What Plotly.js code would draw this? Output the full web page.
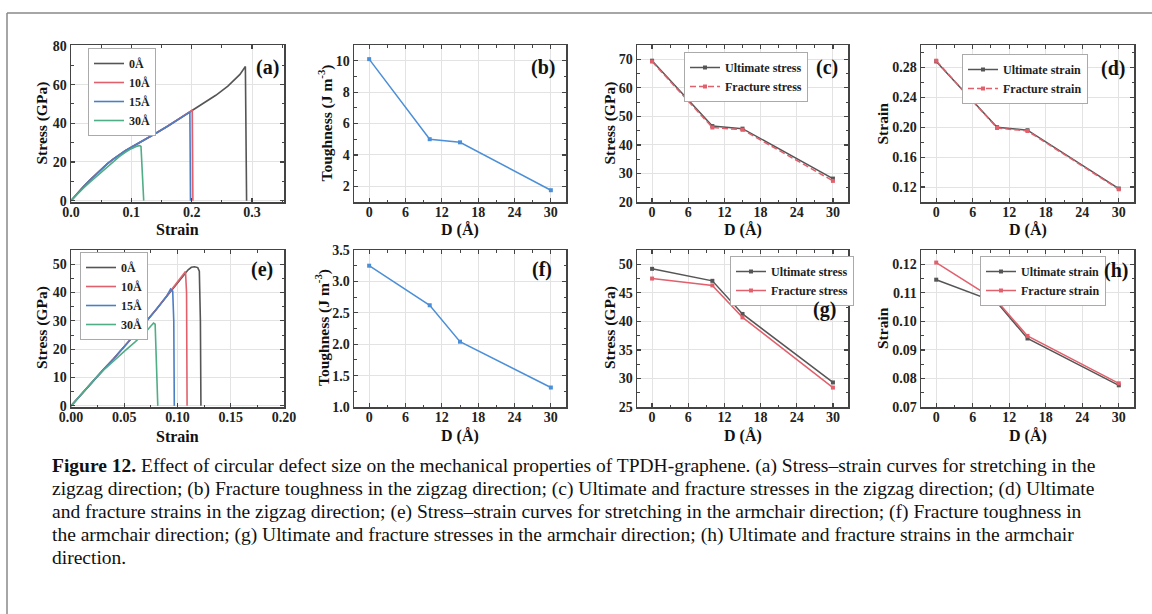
<!DOCTYPE html>
<html>
<head>
<meta charset="utf-8">
<script src="https://cdn.plot.ly/plotly-3.0.1.min.js"></script>
<style>
html,body{margin:0;padding:0;background:#fff;}
#chart{width:1152px;height:614px;}
</style>
</head>
<body>
<div id="chart"></div>
<script>
// ---------------- DATA ----------------
// (a) zigzag stress-strain
const a0_strain = [0, 0.01, 0.02, 0.03, 0.04, 0.05, 0.06, 0.07, 0.08, 0.09, 0.10, 0.11, 0.12, 0.14, 0.16, 0.18, 0.20, 0.22, 0.24, 0.26, 0.27, 0.28, 0.289, 0.2905, 0.291];
const a0_stress = [0, 3.6, 7.0, 10.2, 13.3, 16.2, 19.0, 21.5, 23.8, 25.8, 27.6, 29.3, 31.0, 34.7, 38.5, 42.4, 46.5, 50.4, 54.5, 59.2, 62.0, 65.3, 69.4, 35.0, 0];
const a10_strain = [0, 0.01, 0.02, 0.03, 0.04, 0.05, 0.06, 0.07, 0.08, 0.09, 0.10, 0.11, 0.12, 0.14, 0.16, 0.18, 0.20, 0.201, 0.2015, 0.202];
const a10_stress = [0, 3.6, 7.0, 10.2, 13.3, 16.2, 19.0, 21.5, 23.8, 25.8, 27.6, 29.3, 31.0, 34.7, 38.5, 42.4, 46.5, 46.8, 25.0, 0];
const a15_strain = [0, 0.01, 0.02, 0.03, 0.04, 0.05, 0.06, 0.07, 0.08, 0.09, 0.10, 0.11, 0.12, 0.14, 0.16, 0.18, 0.197, 0.1975, 0.198];
const a15_stress = [0, 3.6, 7.0, 10.2, 13.3, 16.2, 19.0, 21.5, 23.8, 25.8, 27.6, 29.3, 31.0, 34.7, 38.5, 42.4, 45.8, 25.0, 0];
const a30_strain = [0, 0.01, 0.02, 0.03, 0.04, 0.05, 0.06, 0.07, 0.08, 0.09, 0.10, 0.11, 0.114, 0.116, 0.118, 0.1205];
const a30_stress = [0, 3.3, 6.3, 9.2, 12.0, 14.8, 17.5, 20.2, 22.8, 25.0, 26.9, 28.2, 28.5, 28.0, 15.0, 0];

// defect sizes D (Å)
const D = [0, 10, 15, 30];
// (b) zigzag toughness
const toughZ = [10.1, 5.0, 4.8, 1.75];
// (c) zigzag stresses
const ultStressZ = [69.5, 46.6, 45.7, 28.2];
const fracStressZ = [69.2, 46.1, 45.3, 27.4];
// (d) zigzag strains
const ultStrainZ = [0.288, 0.200, 0.196, 0.118];
const fracStrainZ = [0.289, 0.199, 0.195, 0.117];

// (e) armchair stress-strain
const e0_strain = [0, 0.01, 0.02, 0.03, 0.04, 0.05, 0.06, 0.07, 0.08, 0.09, 0.10, 0.105, 0.11, 0.113, 0.116, 0.119, 0.1205, 0.1215, 0.122];
const e0_stress = [0, 4.3, 8.5, 12.6, 16.6, 20.8, 25.1, 29.5, 34.0, 38.8, 43.4, 45.8, 48.0, 48.9, 49.1, 48.8, 47.5, 30.0, 0];
const e10_strain = [0, 0.01, 0.02, 0.03, 0.04, 0.05, 0.06, 0.07, 0.08, 0.09, 0.10, 0.105, 0.1075, 0.1085, 0.109];
const e10_stress = [0, 4.3, 8.5, 12.6, 16.6, 20.8, 25.1, 29.5, 34.0, 38.8, 43.4, 45.8, 47.4, 40.0, 0];
const e15_strain = [0, 0.01, 0.02, 0.03, 0.04, 0.05, 0.06, 0.07, 0.08, 0.09, 0.0935, 0.0955, 0.0965, 0.097];
const e15_stress = [0, 4.3, 8.5, 12.6, 16.6, 20.8, 25.1, 29.5, 34.0, 38.8, 41.2, 40.5, 30.0, 0];
const e30_strain = [0, 0.01, 0.02, 0.03, 0.04, 0.05, 0.06, 0.07, 0.075, 0.0775, 0.079, 0.0805, 0.0815];
const e30_stress = [0, 4.3, 8.5, 12.4, 15.9, 19.2, 22.5, 26.0, 28.2, 29.2, 28.8, 15.0, 0];

// (f) armchair toughness
const toughA = [3.25, 2.62, 2.04, 1.31];
// (g) armchair stresses
const ultStressA = [49.2, 47.1, 41.3, 29.3];
const fracStressA = [47.5, 46.3, 40.7, 28.4];
// (h) armchair strains
const ultStrainA = [0.1146, 0.1066, 0.0940, 0.0776];
const fracStrainA = [0.1206, 0.1071, 0.0949, 0.0783];

const sizeLabels = ['0Å', '10Å', '15Å', '30Å'];
const caption = [
  '<b>Figure 12.</b> Effect of circular defect size on the mechanical properties of TPDH-graphene. (a) Stress–strain curves for stretching in the',
  'zigzag direction; (b) Fracture toughness in the zigzag direction; (c) Ultimate and fracture stresses in the zigzag direction; (d) Ultimate',
  'and fracture strains in the zigzag direction; (e) Stress–strain curves for stretching in the armchair direction; (f) Fracture toughness in',
  'the armchair direction; (g) Ultimate and fracture stresses in the armchair direction; (h) Ultimate and fracture strains in the armchair',
  'direction.'
];

// ---------------- STYLE / LAYOUT ----------------
const W = 1152, H = 614;
const px = x => x / W;
const py = y => 1 - y / H;
const SERIF = 'Liberation Serif, Times New Roman, serif';
const cGray = '#555555', cRed = '#e2606c', cBlue = '#4a7fc6', cGreen = '#4fae86', cLine = '#4b8fd8';

const cols = [[71, 284], [354, 566], [637, 848], [921, 1134]];
const rows = [[45, 202], [250, 407]];

const layout = {
  width: W, height: H,
  margin: {l: 0, r: 0, t: 0, b: 0},
  paper_bgcolor: '#fff', plot_bgcolor: '#fff',
  showlegend: true,
  annotations: [], shapes: []
};

function axisBase(range, dtick, minorDtick, fmt, tick0, isX) {
  const ax = {
    range: range, autorange: false, dtick: dtick, tick0: tick0 === undefined ? 0 : tick0,
    tickformat: fmt || '',
    showline: true, linecolor: '#444', linewidth: 1.5, mirror: 'allticks',
    ticks: 'inside', ticklen: 4, tickwidth: 1.2, tickcolor: '#444',
    minor: {ticks: 'inside', ticklen: 2.5, tickwidth: 1, tickcolor: '#444', dtick: minorDtick, showgrid: false},
    showgrid: true, gridcolor: '#e3e3e3', gridwidth: 1,
    zeroline: false,
    tickfont: {family: SERIF, size: 14, color: '#222', weight: 'bold'},
    fixedrange: true
  };
  if (isX) ax.ticklabelstandoff = -3;
  return ax;
}

const panels = [
  {id: 1, col: 0, row: 0, x: [[0, 0.353], 0.1, 0.05, '.1f'], y: [[-0.7, 80.5], 20, 10, 'd']},
  {id: 2, col: 1, row: 0, x: [[-2.5, 32.5], 6, 3, 'd'], y: [[1, 11], 2, 1, 'd']},
  {id: 3, col: 2, row: 0, x: [[-2.5, 32.5], 6, 3, 'd'], y: [[20, 75], 10, 5, 'd']},
  {id: 4, col: 3, row: 0, x: [[-2.5, 32.5], 6, 3, 'd'], y: [[0.10, 0.31], 0.04, 0.02, '.2f']},
  {id: 5, col: 0, row: 1, x: [[0, 0.2], 0.05, 0.025, '.2f'], y: [[-0.4, 55], 10, 5, 'd']},
  {id: 6, col: 1, row: 1, x: [[-2.5, 32.5], 6, 3, 'd'], y: [[1, 3.5], 0.5, 0.25, '.1f']},
  {id: 7, col: 2, row: 1, x: [[-2.5, 32.5], 6, 3, 'd'], y: [[25, 52.5], 5, 2.5, 'd']},
  {id: 8, col: 3, row: 1, x: [[-2.5, 32.5], 6, 3, 'd'], y: [[0.07, 0.125], 0.01, 0.005, '.2f']}
];
const ytick0 = {4: 0.12, 8: 0.07};

panels.forEach(p => {
  const xa = axisBase(p.x[0], p.x[1], p.x[2], p.x[3], 0, true);
  const ya = axisBase(p.y[0], p.y[1], p.y[2], p.y[3], ytick0[p.id] !== undefined ? ytick0[p.id] : 0, false);
  const c = cols[p.col], r = rows[p.row];
  xa.domain = [px(c[0]), px(c[1])];
  ya.domain = [py(r[1]), py(r[0])];
  xa.anchor = 'y' + (p.id === 1 ? '' : p.id);
  ya.anchor = 'x' + (p.id === 1 ? '' : p.id);
  layout['xaxis' + (p.id === 1 ? '' : p.id)] = xa;
  layout['yaxis' + (p.id === 1 ? '' : p.id)] = ya;
});

// ---------------- TRACES ----------------
const traces = [];
function ss(x, y, name, color, ax, leg) {
  traces.push({x: x, y: y, name: name, type: 'scatter', mode: 'lines',
    line: {color: color, width: 1.6}, xaxis: 'x' + ax, yaxis: 'y' + ax, legend: leg});
}
ss(a0_strain, a0_stress, sizeLabels[0], cGray, '', 'legend');
ss(a10_strain, a10_stress, sizeLabels[1], cRed, '', 'legend');
ss(a15_strain, a15_stress, sizeLabels[2], cBlue, '', 'legend');
ss(a30_strain, a30_stress, sizeLabels[3], cGreen, '', 'legend');
ss(e0_strain, e0_stress, sizeLabels[0], cGray, '5', 'legend4');
ss(e10_strain, e10_stress, sizeLabels[1], cRed, '5', 'legend4');
ss(e15_strain, e15_stress, sizeLabels[2], cBlue, '5', 'legend4');
ss(e30_strain, e30_stress, sizeLabels[3], cGreen, '5', 'legend4');

function lm(y, name, color, ax, leg, dash, show) {
  traces.push({x: D, y: y, name: name, type: 'scatter', mode: 'lines+markers',
    line: {color: color, width: 1.5, dash: dash || 'solid'},
    marker: {symbol: 'square', size: 4, color: color},
    xaxis: 'x' + ax, yaxis: 'y' + ax, legend: leg, showlegend: show !== false});
}
lm(toughZ, 'Toughness', cLine, '2', 'legend', 'solid', false);
lm(ultStressZ, 'Ultimate stress', cGray, '3', 'legend2');
lm(fracStressZ, 'Fracture stress', cRed, '3', 'legend2', '6px,3px');
lm(ultStrainZ, 'Ultimate strain', cGray, '4', 'legend3');
lm(fracStrainZ, 'Fracture strain', cRed, '4', 'legend3', '6px,3px');
lm(toughA, 'Toughness', cLine, '6', 'legend', 'solid', false);
lm(ultStressA, 'Ultimate stress', cGray, '7', 'legend5');
lm(fracStressA, 'Fracture stress', cRed, '7', 'legend5');
lm(ultStrainA, 'Ultimate strain', cGray, '8', 'legend6');
lm(fracStrainA, 'Fracture strain', cRed, '8', 'legend6');

// ---------------- LEGENDS ----------------
function leg(x, y) {
  return {x: px(x), y: py(y), xanchor: 'left', yanchor: 'top',
    bgcolor: '#fff', bordercolor: '#aaa', borderwidth: 1,
    font: {family: SERIF, size: 12, color: '#222', weight: 'bold'},
    itemwidth: 30, tracegroupgap: 0, traceorder: 'normal'};
}
layout.legend = leg(88, 48);
layout.legend2 = leg(684, 52);
layout.legend3 = leg(962, 54);
layout.legend4 = leg(80, 252);
layout.legend5 = leg(730, 256);
layout.legend6 = leg(980, 256);

// ---------------- TEXT ----------------
const A = layout.annotations;
function txt(x, y, t, size, opts) {
  A.push(Object.assign({xref: 'paper', yref: 'paper', x: px(x), y: py(y), text: t, showarrow: false,
    xanchor: 'center', yanchor: 'middle',
    font: {family: SERIF, size: size, color: '#111', weight: 'bold'}}, opts || {}));
}
// panel letters
[['(a)', 267, 67], ['(b)', 543, 67], ['(c)', 827, 67], ['(d)', 1113, 68],
 ['(e)', 262, 269], ['(f)', 542, 269], ['(g)', 824, 309], ['(h)', 1116, 270]]
  .forEach(l => txt(l[1], l[2], l[0], 20));
// x titles
const xTitles = ['Strain', 'D (Å)', 'D (Å)', 'D (Å)'];
cols.forEach((c, i) => {
  txt((c[0] + c[1]) / 2, 230, xTitles[i], 16);
  txt((c[0] + c[1]) / 2, 436, xTitles[i], 16);
});
// y titles: [text, x top row, x bottom row]
const yTitles = [['Stress (GPa)', 42, 42], ['Toughness (J m<sup>-3</sup>)', 326, 322], ['Stress (GPa)', 610, 610], ['Strain', 882, 882]];
yTitles.forEach(t => {
  txt(t[1], 123.5, t[0], 15.5, {textangle: -90});
  txt(t[2], 328, t[0], 15.5, {textangle: -90});
});
// caption
const capY = [466, 489, 512, 535, 557];
caption.forEach((line, i) => {
  A.push({xref: 'paper', yref: 'paper', x: px(50), y: py(capY[i]), text: line, showarrow: false,
    xanchor: 'left', yanchor: 'middle', align: 'left',
    font: {family: SERIF, size: 19.5, color: '#111'}});
});

// outer frame
layout.shapes.push({type: 'line', xref: 'paper', yref: 'paper', x0: px(7), x1: 1, y0: py(13), y1: py(13), line: {color: '#888', width: 1.5}});
layout.shapes.push({type: 'line', xref: 'paper', yref: 'paper', x0: px(7), x1: px(7), y0: py(13), y1: 0, line: {color: '#888', width: 1.5}});

Plotly.newPlot('chart', traces, layout, {displayModeBar: false, staticPlot: true});
</script>
</body>
</html>
